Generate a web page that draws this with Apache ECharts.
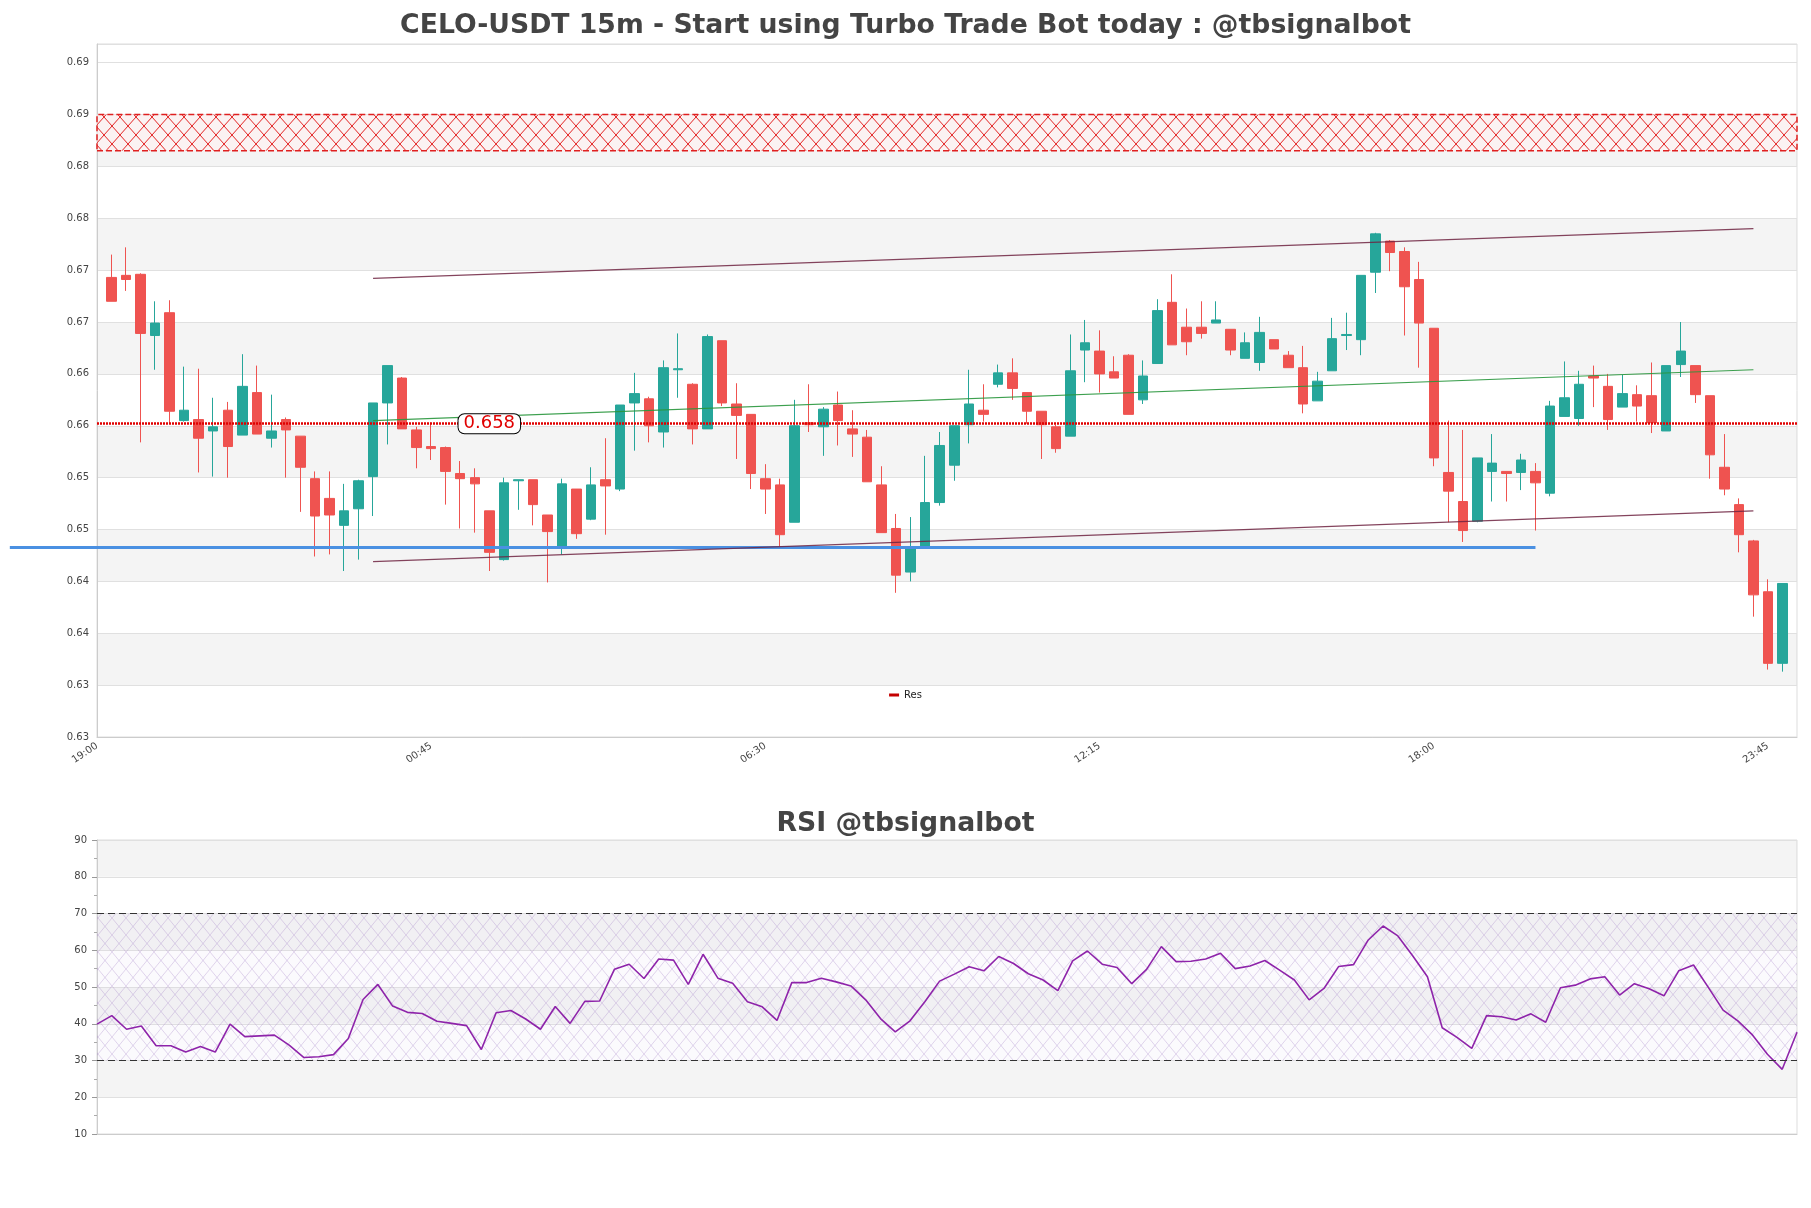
<!DOCTYPE html>
<html><head><meta charset="utf-8">
<script src="https://cdn.jsdelivr.net/npm/echarts@6/dist/echarts.min.js"></script>
<style>html,body{margin:0;padding:0;background:#fff}#c{width:1811px;height:1208px}</style>
</head><body><div id="c"></div>
<script>
// ---- category / tick labels ----
const times = ("19:00 19:15 19:30 19:45 20:00 20:15 20:30 20:45 21:00 21:15 21:30 21:45 22:00 22:15 22:30 22:45 23:00 23:15 23:30 23:45 " +
"00:00 00:15 00:30 00:45 01:00 01:15 01:30 01:45 02:00 02:15 02:30 02:45 03:00 03:15 03:30 03:45 04:00 04:15 04:30 04:45 05:00 05:15 05:30 05:45 " +
"06:00 06:15 06:30 06:45 07:00 07:15 07:30 07:45 08:00 08:15 08:30 08:45 09:00 09:15 09:30 09:45 10:00 10:15 10:30 10:45 11:00 11:15 11:30 11:45 " +
"12:00 12:15 12:30 12:45 13:00 13:15 13:30 13:45 14:00 14:15 14:30 14:45 15:00 15:15 15:30 15:45 16:00 16:15 16:30 16:45 17:00 17:15 17:30 17:45 " +
"18:00 18:15 18:30 18:45 19:00 19:15 19:30 19:45 20:00 20:15 20:30 20:45 21:00 21:15 21:30 21:45 22:00 22:15 22:30 22:45 23:00 23:15 23:30 23:45 " +
"00:00 00:15").split(" ");

// ---- candles (one per 15m, categories 1..116) ----
const opens  = [0.6721,0.6723,0.6724,0.6665,0.6687,0.6583,0.6584,0.6573,0.6593,0.6569,0.6610,0.6566,0.6584,0.6568,0.6527,0.6508,0.6482,0.6498,0.6529,0.6600,
0.6624,0.6574,0.6558,0.6557,0.6532,0.6528,0.6496,0.6449,0.6525,0.6526,0.6492,0.6460,0.6517,0.6488,0.6526,0.6517,0.6600,0.6604,0.6572,0.6632,
0.6618,0.6575,0.6660,0.6599,0.6589,0.6527,0.6521,0.6485,0.6581,0.6577,0.6598,0.6575,0.6567,0.6521,0.6479,0.6437,0.6461,0.6504,0.6540,0.6579,
0.6593,0.6618,0.6629,0.6610,0.6592,0.6577,0.6568,0.6651,0.6650,0.6630,0.6646,0.6603,0.6638,0.6697,0.6673,0.6673,0.6677,0.6671,0.6643,0.6639,
0.6661,0.6646,0.6634,0.6602,0.6631,0.6665,0.6661,0.6726,0.6756,0.6746,0.6719,0.6672,0.6533,0.6505,0.6486,0.6534,0.6534,0.6533,0.6534,0.6513,
0.6587,0.6585,0.6626,0.6616,0.6596,0.6608,0.6607,0.6573,0.6637,0.6636,0.6607,0.6538,0.6502,0.6467,0.6418,0.6349];
const closes = [0.6698,0.6719,0.6667,0.6677,0.6592,0.6593,0.6566,0.6577,0.6558,0.6616,0.6570,0.6573,0.6574,0.6538,0.6491,0.6492,0.6496,0.6525,0.6600,0.6636,
0.6575,0.6557,0.6556,0.6534,0.6527,0.6522,0.6456,0.6523,0.6526,0.6502,0.6476,0.6522,0.6474,0.6521,0.6520,0.6598,0.6609,0.6578,0.6634,0.6633,
0.6575,0.6664,0.6600,0.6588,0.6532,0.6517,0.6473,0.6578,0.6579,0.6594,0.6583,0.6570,0.6524,0.6475,0.6434,0.6461,0.6504,0.6559,0.6578,0.6599,
0.6589,0.6629,0.6614,0.6592,0.6579,0.6556,0.6631,0.6658,0.6628,0.6624,0.6589,0.6626,0.6689,0.6656,0.6659,0.6667,0.6680,0.6651,0.6658,0.6668,
0.6652,0.6634,0.6599,0.6621,0.6662,0.6666,0.6723,0.6763,0.6745,0.6712,0.6677,0.6547,0.6515,0.6477,0.6547,0.6542,0.6532,0.6545,0.6523,0.6597,
0.6605,0.6618,0.6624,0.6584,0.6609,0.6597,0.6581,0.6636,0.6650,0.6608,0.6550,0.6517,0.6473,0.6415,0.6349,0.6426];
const lows   = [0.6698,0.6708,0.6562,0.6632,0.6580,0.6582,0.6533,0.6529,0.6528,0.6569,0.6570,0.6557,0.6528,0.6495,0.6452,0.6454,0.6438,0.6449,0.6491,0.6560,
0.6575,0.6537,0.6545,0.6502,0.6479,0.6475,0.6438,0.6448,0.6497,0.6482,0.6427,0.6454,0.6469,0.6487,0.6473,0.6515,0.6554,0.6562,0.6557,0.6605,
0.6560,0.6575,0.6597,0.6546,0.6517,0.6493,0.6461,0.6485,0.6572,0.6549,0.6559,0.6548,0.6524,0.6475,0.6417,0.6428,0.6461,0.6501,0.6525,0.6561,
0.6582,0.6615,0.6603,0.6580,0.6546,0.6552,0.6568,0.6620,0.6610,0.6624,0.6589,0.6599,0.6638,0.6656,0.6646,0.6662,0.6677,0.6646,0.6643,0.6631,
0.6652,0.6634,0.6590,0.6602,0.6631,0.6651,0.6646,0.6706,0.6727,0.6665,0.6634,0.6539,0.6485,0.6466,0.6485,0.6505,0.6505,0.6516,0.6477,0.6510,
0.6587,0.6578,0.6596,0.6574,0.6596,0.6582,0.6571,0.6573,0.6625,0.6600,0.6527,0.6511,0.6456,0.6394,0.6343,0.6341];
const highs  = [0.6743,0.6750,0.6725,0.6698,0.6699,0.6635,0.6633,0.6605,0.6601,0.6647,0.6636,0.6608,0.6586,0.6568,0.6534,0.6534,0.6522,0.6526,0.6600,0.6636,
0.6625,0.6577,0.6581,0.6558,0.6544,0.6537,0.6496,0.6528,0.6526,0.6526,0.6492,0.6527,0.6517,0.6538,0.6566,0.6598,0.6629,0.6606,0.6641,0.6667,
0.6619,0.6666,0.6660,0.6619,0.6589,0.6541,0.6527,0.6603,0.6618,0.6596,0.6611,0.6593,0.6574,0.6539,0.6493,0.6490,0.6549,0.6572,0.6578,0.6632,
0.6618,0.6637,0.6643,0.6610,0.6592,0.6579,0.6666,0.6680,0.6670,0.6645,0.6647,0.6641,0.6700,0.6724,0.6691,0.6698,0.6698,0.6671,0.6668,0.6683,
0.6661,0.6650,0.6655,0.6630,0.6682,0.6687,0.6723,0.6764,0.6757,0.6750,0.6736,0.6672,0.6583,0.6574,0.6547,0.6570,0.6534,0.6551,0.6542,0.6602,
0.6640,0.6631,0.6636,0.6628,0.6627,0.6617,0.6639,0.6636,0.6678,0.6636,0.6607,0.6570,0.6508,0.6468,0.6430,0.6426];

// ---- RSI (one value per candle) ----
const rsi = [39.9,42.2,38.5,39.4,34.0,34.0,32.3,33.8,32.3,39.9,36.5,36.7,36.9,34.2,30.8,31.0,31.6,36.0,46.6,50.7,
44.8,43.1,42.8,40.7,40.1,39.5,33.0,43.0,43.6,41.3,38.5,44.7,40.1,46.1,46.2,54.8,56.2,52.3,57.6,57.3,
50.7,58.9,52.4,51.0,46.0,44.6,40.9,51.2,51.2,52.4,51.4,50.3,46.5,41.4,37.8,40.8,46.0,51.6,53.5,55.5,
54.4,58.3,56.4,53.6,51.9,49.0,57.1,59.8,56.2,55.3,50.9,54.8,61.0,56.9,57.0,57.6,59.2,55.0,55.7,57.2,
54.6,51.9,46.5,49.6,55.6,56.1,62.8,66.6,63.9,58.5,52.8,38.9,36.3,33.3,42.2,41.9,41.0,42.7,40.4,49.8,
50.5,52.2,52.8,47.8,50.9,49.5,47.6,54.4,56.0,49.9,43.7,40.8,36.9,31.7,27.6,37.7];

// ---- levels / drawings ----
const resLevel = 0.658;
const resLabelIndex = 27;
const resZone = [0.6843, 0.6878];
const supportLevel = 0.6461;
const supportSpan = [-6, 99];
const channelSpan = [19, 114];
const upperLine = [0.6720, 0.6768];
const lowerLine = [0.6447, 0.6496];
const midLine = [0.6583, 0.6632];
const rsiBounds = [30, 70];
const priceAxis = {min: 0.6278, max: 0.6946, step: 0.005};

// ---- build ----
const candleData = [['-','-','-','-']]
  .concat(opens.map((o, i) => [o, closes[i], lows[i], highs[i]]))
  .concat([['-','-','-','-']]);
const rsiCats = times.slice(1, 1 + rsi.length);
const lastCat = times.length - 1;

function hatch(color, w, h, lw, bg) {
  const c = document.createElement('canvas');
  c.width = w; c.height = h;
  const g = c.getContext('2d');
  if (bg) { g.fillStyle = bg; g.fillRect(0, 0, w, h); }
  g.strokeStyle = color; g.lineWidth = lw;
  g.beginPath();
  g.moveTo(0, 0); g.lineTo(w, h);
  g.moveTo(w, 0); g.lineTo(0, h);
  g.stroke();
  return c;
}

const FONT = 'DejaVu Sans';
const W = 'rgba(255,255,255,0)', G = 'rgba(200,200,200,0.2)';
// bands alternate from the bottom; the thin sliver above the last tick stays white
const priceBands = [W,G,W,G,W,G,W,G,W,G,W,G,W,W];
const chart = echarts.init(document.getElementById('c'), null, {renderer: 'canvas'});

const seg = (x0, x1, v0, v1, style) => [{coord: [x0, v0], lineStyle: style}, {coord: [x1, v1]}];
const blueStyle = {color: '#4a90e2', width: 3, type: 'solid'};
const channelStyle = {color: 'rgba(110,35,65,0.85)', width: 1.2, type: 'solid'};
const midStyle = {color: 'rgba(40,150,60,0.9)', width: 1.2, type: 'solid'};
const drawingLines = [
  seg(channelSpan[0], channelSpan[1], upperLine[0], upperLine[1], channelStyle),
  seg(channelSpan[0], channelSpan[1], lowerLine[0], lowerLine[1], channelStyle),
  seg(channelSpan[0], channelSpan[1], midLine[0], midLine[1], midStyle)
];

chart.setOption({
  animation: false,
  backgroundColor: '#fff',
  textStyle: {fontFamily: FONT},
  title: [
    {text: 'CELO-USDT 15m - Start using Turbo Trade Bot today : @tbsignalbot', left: 'center', top: 8,
     textStyle: {fontFamily: FONT, fontSize: 26.7, fontWeight: 'bold', color: '#444'}},
    {text: 'RSI @tbsignalbot', left: 'center', top: 806,
     textStyle: {fontFamily: FONT, fontSize: 26.7, fontWeight: 'bold', color: '#444'}}
  ],
  legend: {data: ['Res'], left: 'center', top: 685, icon: 'rect', itemWidth: 10, itemHeight: 3,
           textStyle: {fontFamily: FONT, fontSize: 10, color: '#222'}},
  grid: [
    {left: 97, right: 14, top: 44, height: 693, show: true, borderColor: '#ddd', borderWidth: 1},
    {left: 97, right: 14, top: 840, height: 294, show: true, borderColor: '#ddd', borderWidth: 1}
  ],
  xAxis: [
    {type: 'category', gridIndex: 0, data: times, boundaryGap: false,
     axisLine: {lineStyle: {color: '#ccc'}}, axisTick: {show: false},
     axisLabel: {interval: 22, rotate: 34, fontSize: 10, color: '#444', fontFamily: FONT},
     splitLine: {show: false}},
    {type: 'category', gridIndex: 1, data: rsiCats, boundaryGap: false,
     axisLine: {lineStyle: {color: '#ccc'}}, axisTick: {show: false}, axisLabel: {show: false},
     splitLine: {show: false}}
  ],
  yAxis: [
    {type: 'value', gridIndex: 0, min: priceAxis.min, max: priceAxis.max, interval: priceAxis.step,
     axisLine: {show: true, lineStyle: {color: '#ccc'}}, axisTick: {show: false},
     axisLabel: {fontSize: 10, color: '#444', fontFamily: FONT, showMaxLabel: false,
                 formatter: v => v.toFixed(2)},
     splitLine: {lineStyle: {color: '#e0e0e0'}},
     splitArea: {show: true, areaStyle: {color: priceBands}}},
    {type: 'value', gridIndex: 1, min: 10, max: 90, interval: 10,
     axisLine: {show: true, lineStyle: {color: '#ccc'}},
     axisTick: {show: true, length: 5, lineStyle: {color: '#999'}},
     minorTick: {show: true, splitNumber: 2, length: 3, lineStyle: {color: '#aaa'}},
     axisLabel: {fontSize: 10, color: '#444', fontFamily: FONT, margin: 10},
     splitLine: {lineStyle: {color: '#e0e0e0'}},
     splitArea: {show: true, areaStyle: {color: [W, G]}}}
  ],
  series: [
    {type: 'candlestick', name: 'price', xAxisIndex: 0, yAxisIndex: 0, data: candleData, barWidth: 10,
     itemStyle: {color: '#26a69a', color0: '#ef5350', borderColor: '#26a69a', borderColor0: '#ef5350', borderWidth: 1}},
    {type: 'line', name: 'Res', xAxisIndex: 0, yAxisIndex: 0, data: [], color: '#c40000', clip: false,
     markArea: {silent: true,
       itemStyle: {color: {image: hatch('rgba(225,25,25,0.95)', 16, 18, 1, 'rgba(255,240,240,0.6)'), repeat: 'repeat'},
                   borderColor: '#e02020', borderWidth: 1.5, borderType: 'dashed'},
       data: [[{yAxis: resZone[0]}, {yAxis: resZone[1]}]]},
     markLine: {silent: true, symbol: ['none', 'none'], label: {show: false},
       data: [seg(0, lastCat, resLevel, resLevel, {color: '#e00000', type: [2, 1], width: 2.6})]},
     markPoint: {silent: true, symbol: 'rect', symbolSize: 1, itemStyle: {color: 'rgba(0,0,0,0)'},
       data: [{coord: [resLabelIndex, resLevel],
         label: {show: true, position: 'inside', formatter: resLevel.toFixed(3), color: '#e00000', fontSize: 18,
                 fontFamily: FONT, backgroundColor: '#fff', borderColor: '#000', borderWidth: 1,
                 borderRadius: 6, padding: [1, 5, 0, 5]}}]}},
    {type: 'line', id: 'drawings', name: 'drawings', xAxisIndex: 0, yAxisIndex: 0, data: [], clip: false,
     markLine: {silent: true, symbol: ['none', 'none'], label: {show: false}, data: drawingLines}},
    {type: 'line', name: 'RSI', xAxisIndex: 1, yAxisIndex: 1, data: rsi, symbol: 'none',
     lineStyle: {color: '#8e24aa', width: 1.6}, itemStyle: {color: '#8e24aa'},
     markArea: {silent: true,
       itemStyle: {color: {image: hatch('rgba(150,110,190,0.28)', 14, 17, 1, 'rgba(225,215,240,0.12)'), repeat: 'repeat'}},
       data: [[{yAxis: rsiBounds[0]}, {yAxis: rsiBounds[1]}]]},
     markLine: {silent: true, symbol: ['none', 'none'], label: {show: false},
       lineStyle: {color: '#333', type: [7, 4], width: 1.2},
       data: [{yAxis: rsiBounds[0]}, {yAxis: rsiBounds[1]}]}}
  ]
});

// support line starts left of the first category: place its start through the axis scale
const p0 = chart.convertToPixel({xAxisIndex: 0, yAxisIndex: 0}, [supportSpan[0], supportLevel]);
chart.setOption({
  series: [{id: 'drawings', markLine: {data: [
    [{x: p0[0], y: p0[1], lineStyle: blueStyle}, {coord: [supportSpan[1], supportLevel]}]
  ].concat(drawingLines)}}]
});
</script></body></html>
